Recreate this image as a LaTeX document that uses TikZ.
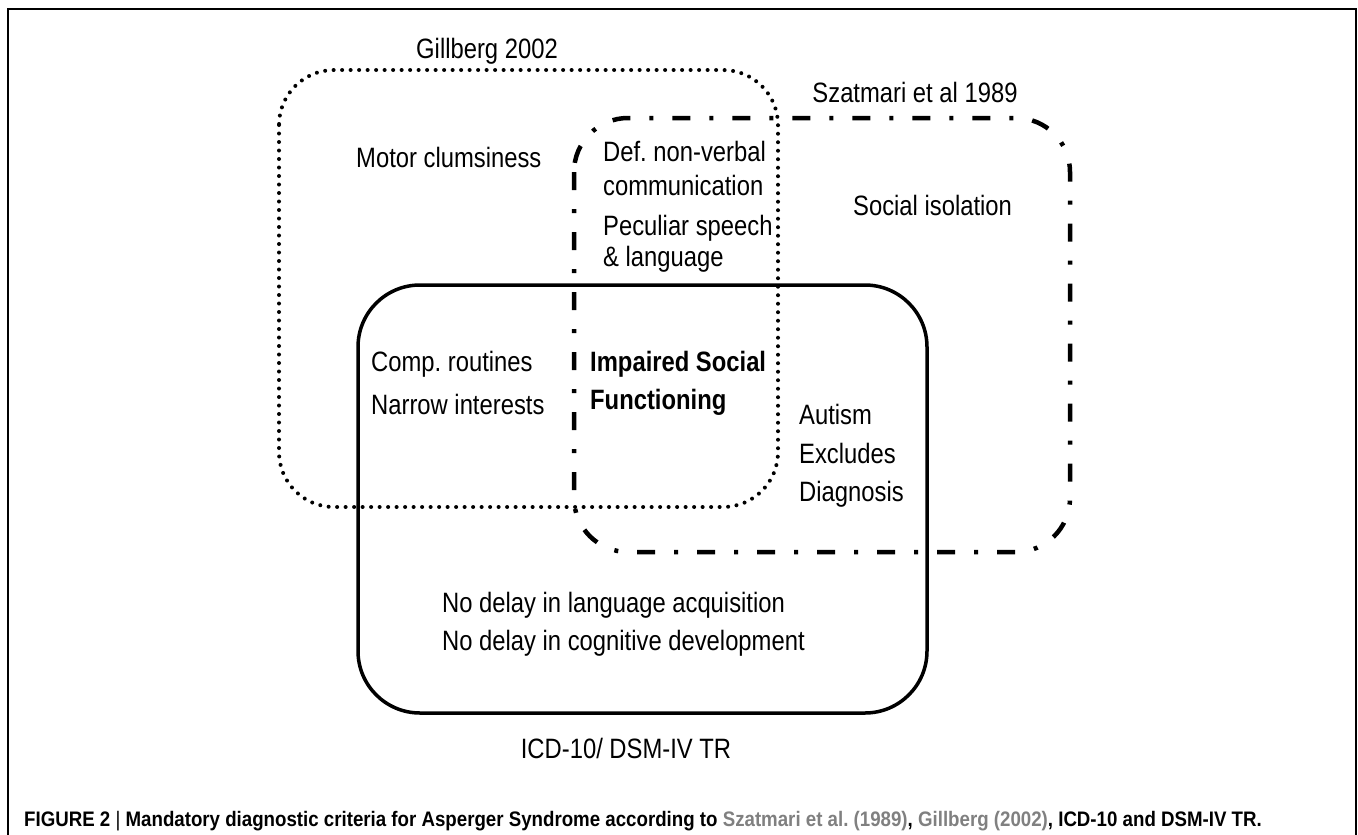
\documentclass[tikz,border=0pt]{standalone}
\usepackage{fontspec}
\setmainfont{Liberation Sans}[FakeStretch=0.85]
\newfontfamily\capfont{Liberation Sans}[FakeStretch=0.89]
\frenchspacing
\begin{document}
\begin{tikzpicture}[x=1pt,y=-1pt, every node/.style={font=\fontsize{28}{30}\selectfont,inner sep=0pt}]
\useasboundingbox (0,0) rectangle (1358,835);
\draw[line width=2pt] (8,840) -- (8,9) -- (1356,9) -- (1356,840);
\draw[line width=4pt,line cap=round,dash pattern=on 0pt off 8.5pt,rounded corners=55pt] (279,70) rectangle (778,507);
\draw[line width=4.5pt,dash pattern=on 18pt off 19pt on 4pt off 19pt,rounded corners=54pt] (574,118) rectangle (1070,552);
\draw[line width=3.5pt,rounded corners=62pt] (358,285) rectangle (927,713);
\node[anchor=base] (gillberg) at (487,58) {Gillberg 2002};
\node[anchor=base] (szatmari) at (915,102) {Szatmari et al 1989};
\node[anchor=base] (icd) at (626,758) {ICD-10/ DSM-IV TR};
\foreach \x/\y/\t [count=\i] in {356/167/{Motor clumsiness},603/161/{Def. non-verbal},603/195/{communication},
  603/235/{Peculiar speech},603/266/{\& language},853/215/{Social isolation},371/371/{Comp. routines},
  371/414/{Narrow interests},799/424/{Autism},799/463/{Excludes},799/501/{Diagnosis},
  442/612/{No delay in language acquisition},442/650/{No delay in cognitive development}}
  \node[anchor=base west] (crit\i) at (\x,\y) {\t};
\node[anchor=base west,font=\bfseries\fontsize{28}{30}\selectfont] (impaired) at (590,371) {Impaired Social};
\node[anchor=base west,font=\bfseries\fontsize{28}{30}\selectfont] (functioning) at (590,409) {Functioning};
\node[anchor=base west,font=\capfont\bfseries\fontsize{21}{24}\selectfont] (caption) at (24,826)
  {FIGURE 2 {\mdseries|} Mandatory diagnostic criteria for Asperger Syndrome according to {\color{black!50}Szatmari et al. (1989)}, {\color{black!50}Gillberg (2002)}, ICD-10 and DSM-IV TR.};
\end{tikzpicture}
\end{document}
